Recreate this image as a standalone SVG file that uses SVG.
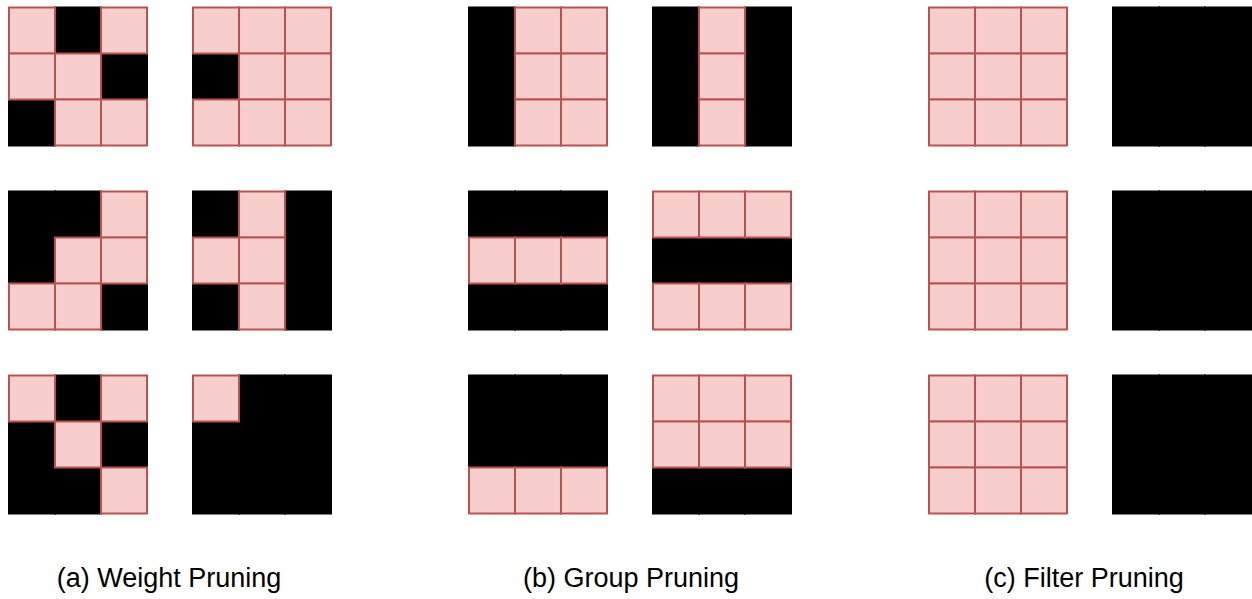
<svg xmlns="http://www.w3.org/2000/svg" xmlns:xlink="http://www.w3.org/1999/xlink" width="1252" height="599" viewBox="0 0 1252 599">
<style>
.p{fill:#f8cecc;stroke:#b85450;stroke-width:2}
.b{fill:#000;stroke:#000;stroke-width:2}
.lbl{font-family:"Liberation Sans",Arial,sans-serif;font-size:27px;fill:#000;text-anchor:middle}
</style>
<defs>
<rect id="P" class="p" width="46" height="46"/>
<rect id="B" class="b" width="46" height="46"/>
</defs>
<rect width="1252" height="599" fill="#fff"/>
<!-- Weight pruning -->
<g id="a1" transform="translate(9,7.5)">
<use href="#B" x="46" y="0"/><use href="#B" x="92" y="46"/><use href="#B" x="0" y="92"/>
<use href="#P" x="0" y="0"/><use href="#P" x="92" y="0"/><use href="#P" x="0" y="46"/><use href="#P" x="46" y="46"/><use href="#P" x="46" y="92"/><use href="#P" x="92" y="92"/>
</g>
<g id="a2" transform="translate(193,7.5)">
<use href="#B" x="0" y="46"/>
<use href="#P" x="0" y="0"/><use href="#P" x="46" y="0"/><use href="#P" x="92" y="0"/><use href="#P" x="46" y="46"/><use href="#P" x="92" y="46"/><use href="#P" x="0" y="92"/><use href="#P" x="46" y="92"/><use href="#P" x="92" y="92"/>
</g>
<g id="a3" transform="translate(9,191.5)">
<use href="#B" x="0" y="0"/><use href="#B" x="46" y="0"/><use href="#B" x="0" y="46"/><use href="#B" x="92" y="92"/>
<use href="#P" x="92" y="0"/><use href="#P" x="46" y="46"/><use href="#P" x="92" y="46"/><use href="#P" x="0" y="92"/><use href="#P" x="46" y="92"/>
</g>
<g id="a4" transform="translate(193,191.5)">
<use href="#B" x="0" y="0"/><use href="#B" x="92" y="0"/><use href="#B" x="92" y="46"/><use href="#B" x="0" y="92"/><use href="#B" x="92" y="92"/>
<use href="#P" x="46" y="0"/><use href="#P" x="0" y="46"/><use href="#P" x="46" y="46"/><use href="#P" x="46" y="92"/>
</g>
<g id="a5" transform="translate(9,375.5)">
<use href="#B" x="46" y="0"/><use href="#B" x="0" y="46"/><use href="#B" x="92" y="46"/><use href="#B" x="0" y="92"/><use href="#B" x="46" y="92"/>
<use href="#P" x="0" y="0"/><use href="#P" x="92" y="0"/><use href="#P" x="46" y="46"/><use href="#P" x="92" y="92"/>
</g>
<g id="a6" transform="translate(193,375.5)">
<use href="#B" x="46" y="0"/><use href="#B" x="92" y="0"/><use href="#B" x="0" y="46"/><use href="#B" x="46" y="46"/><use href="#B" x="92" y="46"/><use href="#B" x="0" y="92"/><use href="#B" x="46" y="92"/><use href="#B" x="92" y="92"/>
<use href="#P" x="0" y="0"/>
</g>
<!-- Group pruning -->
<g id="b1" transform="translate(469,7.5)">
<use href="#B" x="0" y="0"/><use href="#B" x="0" y="46"/><use href="#B" x="0" y="92"/>
<use href="#P" x="46" y="0"/><use href="#P" x="92" y="0"/><use href="#P" x="46" y="46"/><use href="#P" x="92" y="46"/><use href="#P" x="46" y="92"/><use href="#P" x="92" y="92"/>
</g>
<g id="b2" transform="translate(653,7.5)">
<use href="#B" x="0" y="0"/><use href="#B" x="0" y="46"/><use href="#B" x="0" y="92"/><use href="#B" x="92" y="0"/><use href="#B" x="92" y="46"/><use href="#B" x="92" y="92"/>
<use href="#P" x="46" y="0"/><use href="#P" x="46" y="46"/><use href="#P" x="46" y="92"/>
</g>
<g id="b3" transform="translate(469,191.5)">
<use href="#B" x="0" y="0"/><use href="#B" x="46" y="0"/><use href="#B" x="92" y="0"/><use href="#B" x="0" y="92"/><use href="#B" x="46" y="92"/><use href="#B" x="92" y="92"/>
<use href="#P" x="0" y="46"/><use href="#P" x="46" y="46"/><use href="#P" x="92" y="46"/>
</g>
<g id="b4" transform="translate(653,191.5)">
<use href="#B" x="0" y="46"/><use href="#B" x="46" y="46"/><use href="#B" x="92" y="46"/>
<use href="#P" x="0" y="0"/><use href="#P" x="46" y="0"/><use href="#P" x="92" y="0"/><use href="#P" x="0" y="92"/><use href="#P" x="46" y="92"/><use href="#P" x="92" y="92"/>
</g>
<g id="b5" transform="translate(469,375.5)">
<use href="#B" x="0" y="0"/><use href="#B" x="46" y="0"/><use href="#B" x="92" y="0"/><use href="#B" x="0" y="46"/><use href="#B" x="46" y="46"/><use href="#B" x="92" y="46"/>
<use href="#P" x="0" y="92"/><use href="#P" x="46" y="92"/><use href="#P" x="92" y="92"/>
</g>
<g id="b6" transform="translate(653,375.5)">
<use href="#B" x="0" y="92"/><use href="#B" x="46" y="92"/><use href="#B" x="92" y="92"/>
<use href="#P" x="0" y="0"/><use href="#P" x="46" y="0"/><use href="#P" x="92" y="0"/><use href="#P" x="0" y="46"/><use href="#P" x="46" y="46"/><use href="#P" x="92" y="46"/>
</g>
<!-- Filter pruning -->
<g id="c1" transform="translate(929,7.5)">
<use href="#P" x="0" y="0"/><use href="#P" x="46" y="0"/><use href="#P" x="92" y="0"/><use href="#P" x="0" y="46"/><use href="#P" x="46" y="46"/><use href="#P" x="92" y="46"/><use href="#P" x="0" y="92"/><use href="#P" x="46" y="92"/><use href="#P" x="92" y="92"/>
</g>
<g id="c2" transform="translate(1113,7.5)">
<use href="#B" x="0" y="0"/><use href="#B" x="46" y="0"/><use href="#B" x="92" y="0"/><use href="#B" x="0" y="46"/><use href="#B" x="46" y="46"/><use href="#B" x="92" y="46"/><use href="#B" x="0" y="92"/><use href="#B" x="46" y="92"/><use href="#B" x="92" y="92"/>
</g>
<g id="c3" transform="translate(929,191.5)">
<use href="#P" x="0" y="0"/><use href="#P" x="46" y="0"/><use href="#P" x="92" y="0"/><use href="#P" x="0" y="46"/><use href="#P" x="46" y="46"/><use href="#P" x="92" y="46"/><use href="#P" x="0" y="92"/><use href="#P" x="46" y="92"/><use href="#P" x="92" y="92"/>
</g>
<g id="c4" transform="translate(1113,191.5)">
<use href="#B" x="0" y="0"/><use href="#B" x="46" y="0"/><use href="#B" x="92" y="0"/><use href="#B" x="0" y="46"/><use href="#B" x="46" y="46"/><use href="#B" x="92" y="46"/><use href="#B" x="0" y="92"/><use href="#B" x="46" y="92"/><use href="#B" x="92" y="92"/>
</g>
<g id="c5" transform="translate(929,375.5)">
<use href="#P" x="0" y="0"/><use href="#P" x="46" y="0"/><use href="#P" x="92" y="0"/><use href="#P" x="0" y="46"/><use href="#P" x="46" y="46"/><use href="#P" x="92" y="46"/><use href="#P" x="0" y="92"/><use href="#P" x="46" y="92"/><use href="#P" x="92" y="92"/>
</g>
<g id="c6" transform="translate(1113,375.5)">
<use href="#B" x="0" y="0"/><use href="#B" x="46" y="0"/><use href="#B" x="92" y="0"/><use href="#B" x="0" y="46"/><use href="#B" x="46" y="46"/><use href="#B" x="92" y="46"/><use href="#B" x="0" y="92"/><use href="#B" x="46" y="92"/><use href="#B" x="92" y="92"/>
</g>
<g id="connectors"></g>
<g id="labels">
<text class="lbl" x="169" y="587">(a) Weight Pruning</text>
<text class="lbl" x="631" y="587">(b) Group Pruning</text>
<text class="lbl" x="1084" y="587">(c) Filter Pruning</text>
</g>
</svg>
